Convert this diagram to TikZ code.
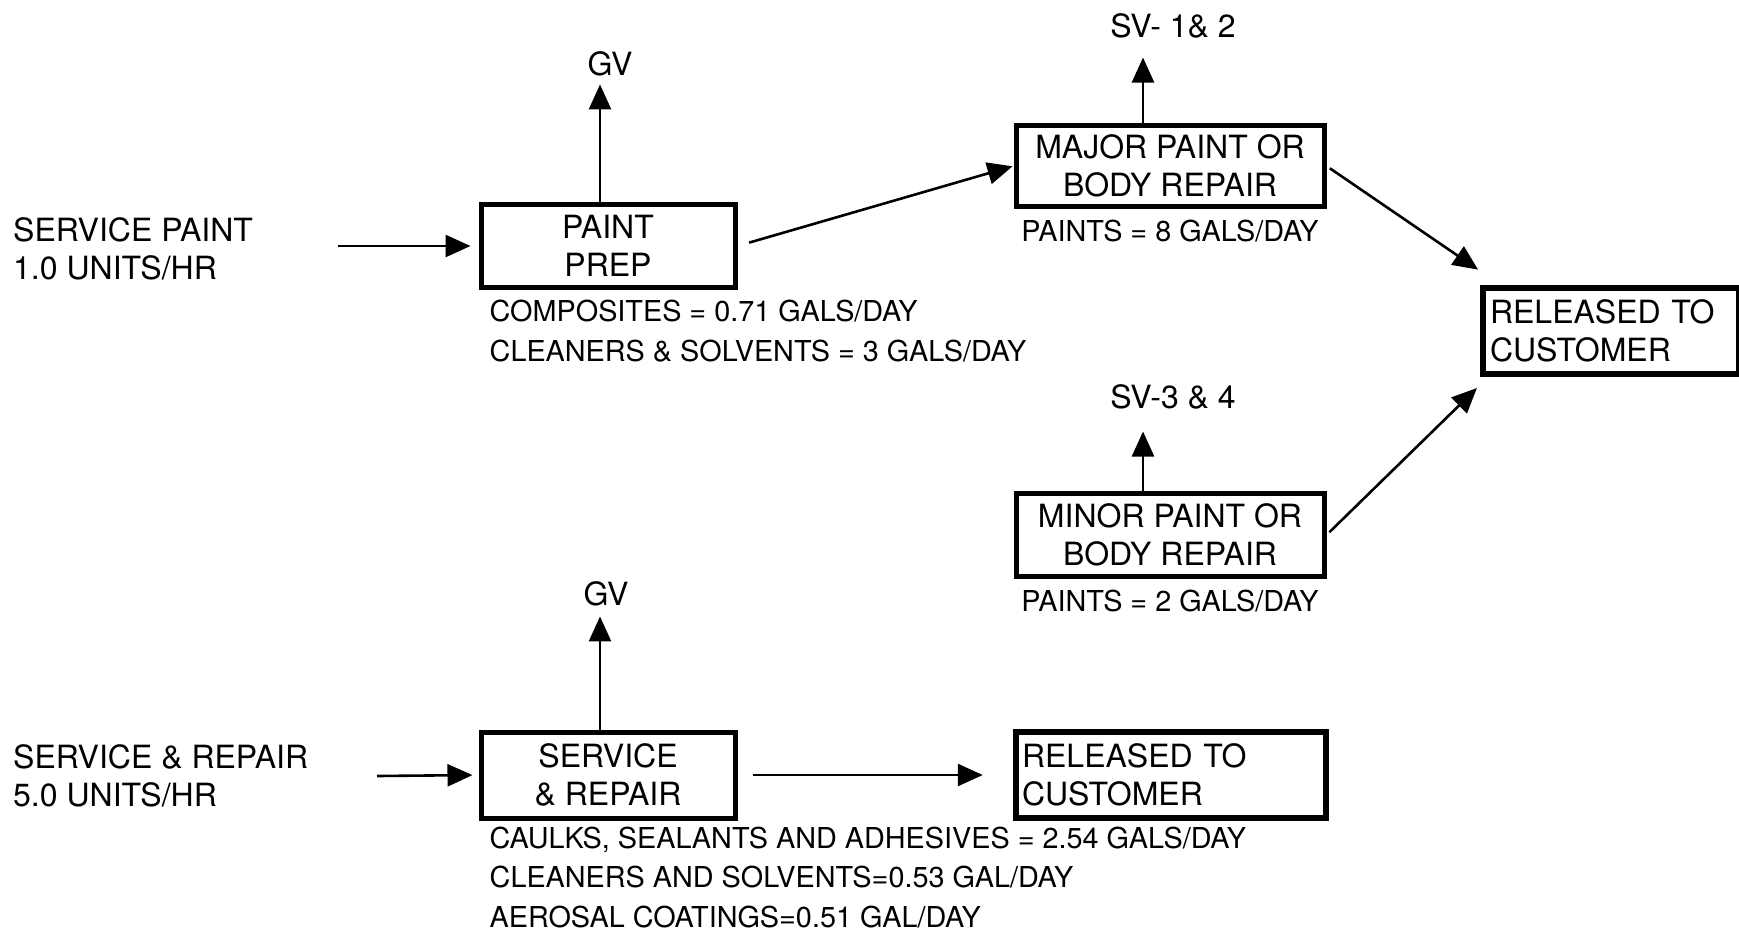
\documentclass[tikz,border=0pt]{standalone}
\usepackage{fontspec}
\setmainfont{TeX Gyre Heros}
\usetikzlibrary{arrows.meta,positioning}

\begin{document}
\begin{tikzpicture}[x=1pt, y=-1pt,
  every node/.style={font=\fontsize{32}{38}\selectfont, inner sep=2pt},
  proc/.style={draw, line width=5pt, minimum width=254pt, minimum height=83pt, align=center},
  outbox/.style={draw, line width=6.5pt, minimum height=86pt, text width=298pt, inner xsep=6pt, align=left},
  note/.style={font=\fontsize{28.8}{39.5}\selectfont, align=left},
  flow/.style={-{Triangle[length=25pt,width=22pt]}, line width=2.6pt}]
  \fill[white] (0,0) rectangle (1739,932);
  \useasboundingbox (0,0) rectangle (1739,932);

  \node[proc] (prep) at (608,246) {PAINT\\PREP};
  \node[proc, minimum width=308pt, minimum height=81pt] (major) at (1170,166) {MAJOR PAINT OR\\BODY REPAIR};
  \node[proc, minimum width=308pt] (minor) at (1170,535) {MINOR PAINT OR\\BODY REPAIR};
  \node[outbox, text width=242pt, inner xsep=7pt] (rel1) at (1611,331) {RELEASED TO\\CUSTOMER};
  \node[proc, minimum height=86pt] (serv) at (608,775) {SERVICE\\\& REPAIR};
  \node[outbox] (rel2) at (1171,775) {RELEASED TO\\CUSTOMER};

  % inputs
  \node[anchor=west, align=left] (inpaint) at (11,249) {SERVICE PAINT\\1.0 UNITS/HR};
  \node[anchor=west, align=left] (inrepair) at (11,776) {SERVICE \& REPAIR\\5.0 UNITS/HR};
  \coordinate (paintin) at (338,246);
  \coordinate (repairin) at (377,776);

  % vents
  \node (gvprep) at (610,64) {GV};
  \node (sv12) at (1173,26) {SV- 1\& 2};
  \node (sv34) at (1173,397) {SV-3 \& 4};
  \node (gvserv) at (606,594) {GV};

  % usage
  \node[note, below right=8pt and 9pt of prep.south west] (prepnote) {COMPOSITES = 0.71 GALS/DAY\\CLEANERS \& SOLVENTS = 3 GALS/DAY};
  \node[note, below=9pt of major] (majornote) {PAINTS = 8 GALS/DAY};
  \node[note, below=9pt of minor] (minornote) {PAINTS = 2 GALS/DAY};
  \node[note, below right=4pt and 9pt of serv.south west] (servnote) {CAULKS, SEALANTS AND ADHESIVES = 2.54 GALS/DAY\\CLEANERS AND SOLVENTS=0.53 GAL/DAY\\AEROSAL COATINGS=0.51 GAL/DAY};

  \draw[flow, shorten >=8pt] (paintin) -- (prep.west);
  \draw[flow, shorten >=6pt] ([xshift=-8pt]prep.north) -- ([xshift=-10pt]gvprep.south);
  \draw[flow, shorten <=12pt, shorten >=1pt] (prep.east) -- (major.west);
  \draw[flow, shorten >=17pt] ([xshift=-27pt]major.north) -- ([xshift=-30pt]sv12.south);
  \draw[flow, shorten <=4pt, shorten >=2pt] (major.east) -- ([yshift=14pt]rel1.north west);
  \draw[flow, shorten >=20pt] ([xshift=-27pt]minor.north) -- ([xshift=-30pt]sv34.south);
  \draw[flow, shorten <=4pt, shorten >=4pt] (minor.east) -- ([yshift=-8pt]rel1.south west);
  \draw[flow, shorten >=6pt] (repairin) -- (serv.west);
  \draw[flow, shorten >=8pt] ([xshift=-8pt]serv.north) -- ([xshift=-6pt]gvserv.south);
  \draw[flow, shorten <=15pt, shorten >=30pt] (serv.east) -- (rel2.west);
\end{tikzpicture}
\end{document}
